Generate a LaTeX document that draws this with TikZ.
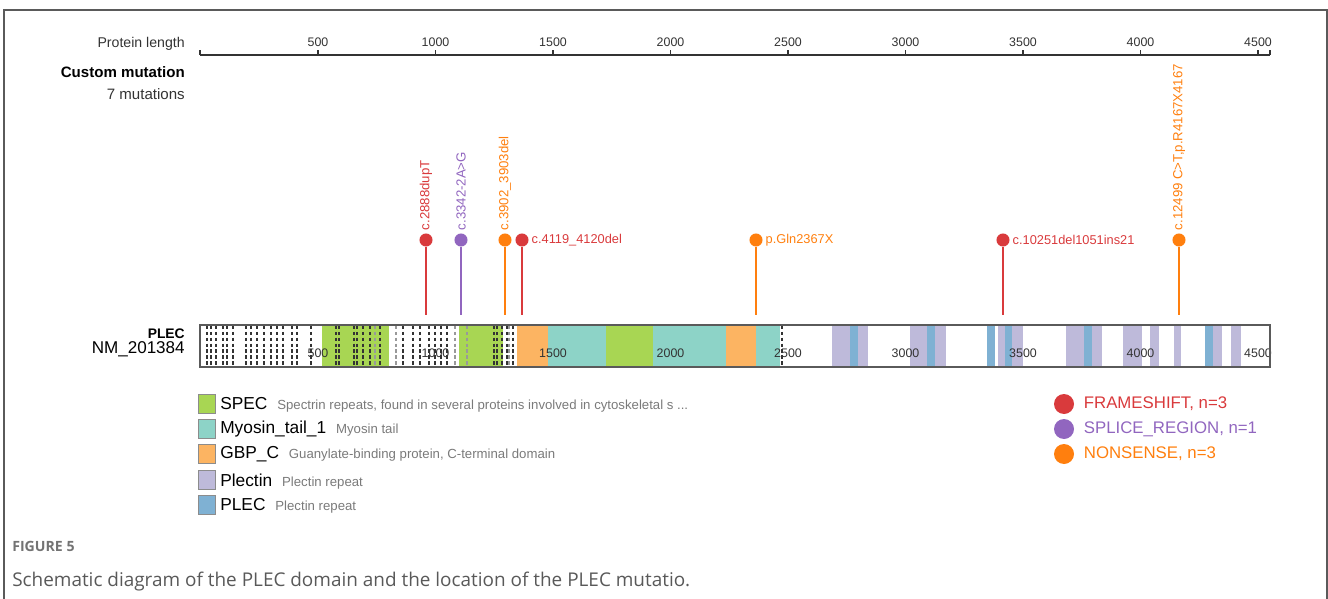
\documentclass[tikz,border=0pt]{standalone}
\usepackage{fontspec}
\setmainfont{Liberation Sans}
\newfontfamily\capfont{Open Sans}
\usetikzlibrary{positioning}

\definecolor{framegray}{HTML}{5A5A5A}
\definecolor{specgreen}{HTML}{A8D653}
\definecolor{myoteal}{HTML}{8DD3C7}
\definecolor{gbporange}{HTML}{FCB462}
\definecolor{plecpurple}{HTML}{BEBADA}
\definecolor{plecblue}{HTML}{7FB1D3}
\definecolor{fsred}{HTML}{D93A3C}
\definecolor{spviolet}{HTML}{9166BF}
\definecolor{nsorange}{HTML}{FF7F0E}
\definecolor{textgray}{HTML}{333333}
\definecolor{descgray}{HTML}{7A7A7A}

\begin{document}
\begin{tikzpicture}[
        x = 0.75pt,
        y = -0.75pt,
        inner sep = 0pt,
        text = textgray
        ]

        \tikzstyle{rowlabel}=[
                anchor = east,
                font = \fontsize{11.3}{13}\selectfont
        ]
        \tikzstyle{ticklabel}=[
                font = \fontsize{9.3}{11}\selectfont
        ]
        \tikzstyle{head}=[
                circle,
                minimum size = 9.8pt
        ]
        \tikzstyle{vlabel}=[
                anchor = west,
                rotate = 90,
                font = \fontsize{9.9}{11}\selectfont
        ]
        \tikzstyle{hlabel}=[
                anchor = west,
                font = \fontsize{9.6}{11}\selectfont
        ]
        \tikzstyle{stem}=[
                line width = 0.8pt
        ]
        \tikzstyle{dline}=[
                line width = 0.9pt,
                dash pattern = on 2.6pt off 1.8pt
        ]
        \tikzstyle{keybox}=[
                draw = black!45,
                minimum width = 12.5pt,
                minimum height = 14.5pt
        ]
        \tikzstyle{keyname}=[
                anchor = west,
                text = black,
                font = \fontsize{13}{15}\selectfont
        ]
        \tikzstyle{keydesc}=[
                anchor = base west,
                text = descgray,
                font = \fontsize{9.9}{11}\selectfont
        ]
        \tikzstyle{keydot}=[
                circle,
                minimum size = 15pt
        ]

        \useasboundingbox (0,0) rectangle (1328,599);

        % frame
        \draw[framegray, line width = 0.9pt] (4,600) -- (4,10) -- (1327,10) -- (1327,600);

        % axis
        \node[rowlabel, font = \fontsize{10.6}{12}\selectfont] (plen) at (185,44) {Protein length};
        \draw[textgray, line width = 0.8pt] (200,55) -- (1270,55);
        \draw[textgray, line width = 0.8pt] (200,55) -- (200,50);
        \draw[textgray, line width = 0.8pt] (1270,55) -- (1270,50);
        \foreach \v in {1,...,9}
        {
                \draw[textgray, line width = 0.8pt] (200.5+117.5*\v,55) -- (200.5+117.5*\v,50);
                \node[ticklabel] (ax\v) at (200.5+117.5*\v,42) {\pgfmathparse{int(500*\v)}\pgfmathresult};
        }

        \node[rowlabel, font = \bfseries\fontsize{11.3}{13}\selectfont, text = black] (cm) at (185,72) {Custom mutation};
        \node[rowlabel] (nmut) at (185,94) {7 mutations};

        % protein track
        \node[rowlabel, font = \bfseries\fontsize{10.4}{12}\selectfont, text = black] (gene) at (185,334) {PLEC};
        \node[rowlabel, font = \fontsize{12.8}{14}\selectfont, text = black] (tx) at (185,349) {NM\_201384};

        \fill[white] (200,325) rectangle (1270,367);
        \foreach \a/\b in {322/389, 459/503, 606/653}
                \fill[specgreen] (\a,325) rectangle (\b,367);
        \foreach \a/\b in {548/606, 653/726, 756/780}
                \fill[myoteal] (\a,325) rectangle (\b,367);
        \foreach \a/\b in {517/548, 726/756}
                \fill[gbporange] (\a,325) rectangle (\b,367);
        \foreach \a/\b in {832/868, 910/946, 998/1023, 1066/1102, 1123/1142, 1150/1159, 1174/1181, 1213/1222, 1231/1241}
                \fill[plecpurple] (\a,325) rectangle (\b,367);
        \foreach \a/\b in {850/858, 927/935, 987/995, 1005/1012, 1084/1092, 1205/1213}
                \fill[plecblue] (\a,325) rectangle (\b,367);

        \foreach \x in {207, 211, 216, 223, 227, 233, 246, 251, 257, 264, 271, 277, 283, 292, 297, 311, 336, 339, 354, 357, 363, 370, 380, 403, 413, 420, 429, 435, 441, 447, 494, 497, 502, 507, 513, 782}
                \draw[dline, black!80] (\x,326) -- (\x,366);
        \foreach \x in {375, 396, 455, 467, 509}
                \draw[dline, black!40] (\x,326) -- (\x,366);

        \foreach \v in {1,...,9}
                \node[ticklabel] (tk\v) at (200.5+117.5*\v,353) {\pgfmathparse{int(500*\v)}\pgfmathresult};

        \draw[framegray, line width = 0.9pt] (200,325) rectangle (1270,367);

        % mutations
        \node[head, fill = fsred] (m1) at (426,240) {};
        \node[head, fill = spviolet] (m2) at (461,240) {};
        \node[head, fill = nsorange] (m3) at (505,240) {};
        \node[head, fill = fsred] (m4) at (522,240) {};
        \node[head, fill = nsorange] (m5) at (756,240) {};
        \node[head, fill = fsred] (m6) at (1003,240) {};
        \node[head, fill = nsorange] (m7) at (1179,240) {};

        \coordinate (s1) at (426,315);
        \coordinate (s2) at (461,315);
        \coordinate (s3) at (505,315);
        \coordinate (s4) at (522,315);
        \coordinate (s5) at (756,315);
        \coordinate (s6) at (1003,315);
        \coordinate (s7) at (1179,315);

        \draw[stem, fsred] (m1) -- (s1);
        \draw[stem, spviolet] (m2) -- (s2);
        \draw[stem, nsorange] (m3) -- (s3);
        \draw[stem, fsred] (m4) -- (s4);
        \draw[stem, nsorange] (m5) -- (s5);
        \draw[stem, fsred] (m6) -- (s6);
        \draw[stem, nsorange] (m7) -- (s7);

        \node[vlabel, text = fsred] at ([yshift=2pt]m1.north) {c.2888dupT};
        \node[vlabel, text = spviolet] at ([yshift=2pt]m2.north) {c.3342-2A>G};
        \node[vlabel, text = nsorange] at ([yshift=2pt]m3.north) {c.3902\_3903del};
        \node[hlabel, text = fsred] at ([xshift=2pt]m4.east) {c.4119\_4120del};
        \node[hlabel, text = nsorange] at ([xshift=2pt]m5.east) {p.Gln2367X};
        \node[hlabel, text = fsred] at ([xshift=2pt]m6.east) {c.10251del1051ins21};
        \node[vlabel, text = nsorange] at ([yshift=2pt]m7.north) {c.12499 C>T,p.R4167X4167};

        % domain key
        \node[keybox, fill = specgreen] (k1) at (207,404) {};
        \node[keybox, fill = myoteal] (k2) at (207,429) {};
        \node[keybox, fill = gbporange] (k3) at (207,454) {};
        \node[keybox, fill = plecpurple] (k4) at (207,480) {};
        \node[keybox, fill = plecblue] (k5) at (207,505) {};

        \node[keyname] (n1) at (220,404) {SPEC};
        \node[keyname] (n2) at (220,429) {Myosin\_tail\_1};
        \node[keyname] (n3) at (220,454) {GBP\_C};
        \node[keyname] (n4) at (220,480) {Plectin};
        \node[keyname] (n5) at (220,505) {PLEC};

        \node[keydesc] at ([xshift=7pt]n1.base east) {Spectrin repeats, found in several proteins involved in cytoskeletal s ...};
        \node[keydesc] at ([xshift=7pt]n2.base east) {Myosin tail};
        \node[keydesc] at ([xshift=7pt]n3.base east) {Guanylate-binding protein, C-terminal domain};
        \node[keydesc] at ([xshift=7pt]n4.base east) {Plectin repeat};
        \node[keydesc] at ([xshift=7pt]n5.base east) {Plectin repeat};

        % mutation key
        \node[keydot, fill = fsred] (d1) at (1064,404) {};
        \node[keydot, fill = spviolet] (d2) at (1064,429) {};
        \node[keydot, fill = nsorange] (d3) at (1064,454) {};
        \node[keyname, text = fsred, font = \fontsize{12.6}{14}\selectfont, right = 7pt of d1] (t1) {FRAMESHIFT, n=3};
        \node[keyname, text = spviolet, font = \fontsize{12.6}{14}\selectfont, right = 7pt of d2] (t2) {SPLICE\_REGION, n=1};
        \node[keyname, text = nsorange, font = \fontsize{12.6}{14}\selectfont, right = 7pt of d3] (t3) {NONSENSE, n=3};

        % caption
        \node[anchor = west, text = black!55, font = \capfont\bfseries\fontsize{10.6}{12}\selectfont] (fig) at (12,546) {FIGURE 5};
        \node[anchor = west, text = black!65, font = \capfont\fontsize{14.2}{16}\selectfont] (cap) at (12,582) {Schematic diagram of the PLEC domain and the location of the PLEC mutatio.};
\end{tikzpicture}
\end{document}
